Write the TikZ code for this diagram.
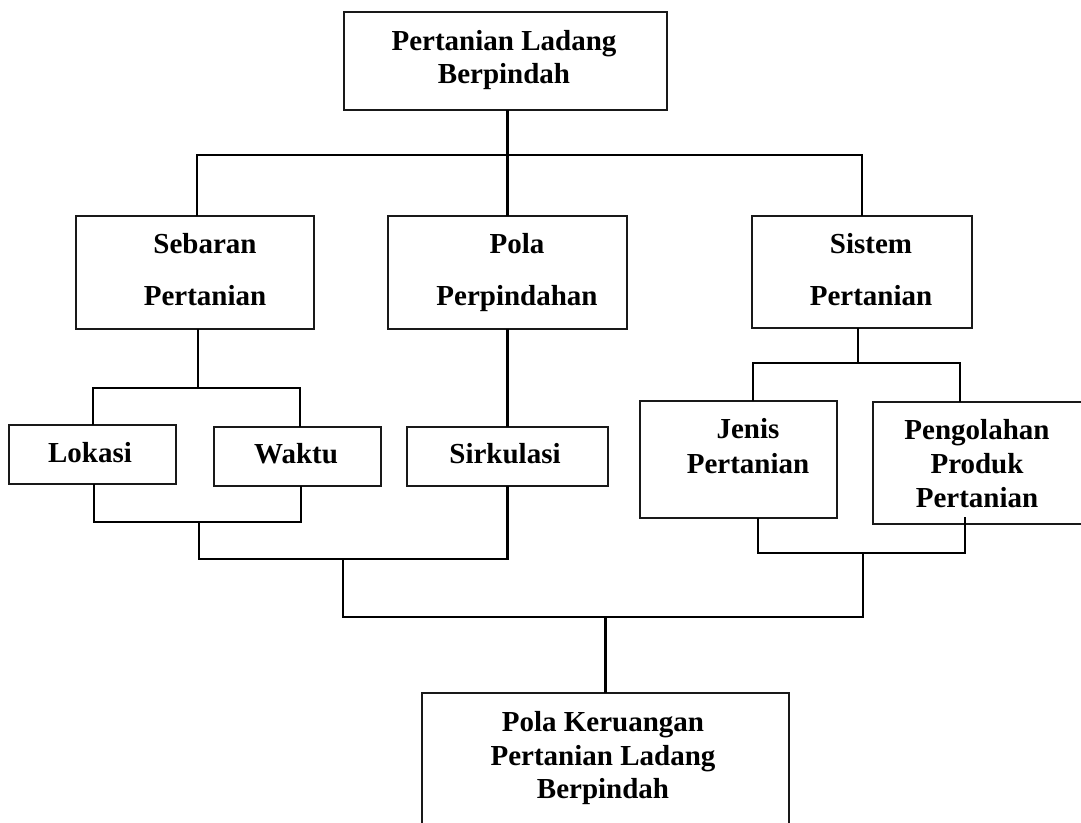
\documentclass[tikz,border=0pt]{standalone}
\usepackage{fontspec}
\setmainfont{Liberation Serif}
\usetikzlibrary{fit}
\begin{document}
\begin{tikzpicture}[x=0.75pt,y=-0.75pt,
  box/.style={draw=black!90,line width=0.8pt,rectangle,inner sep=0pt,outer sep=0pt},
  conn/.style={line width=1.6pt,black},
  lbl/.style={font=\fontsize{21.75}{26}\selectfont\bfseries,anchor=base,inner sep=0pt}]
\useasboundingbox (0,0) rectangle (1081,822);
% boxes
\node[box,fit={(344,12)(667,110)}] (T) {};
\node[box,fit={(76,216)(314,329)}] (S) {};
\node[box,fit={(388,216)(627,329)}] (P) {};
\node[box,fit={(752,216)(972,328)}] (Si) {};
\node[box,fit={(9,425)(176,484)}] (L) {};
\node[box,fit={(214,427)(381,486)}] (W) {};
\node[box,fit={(407,427)(608,486)}] (Sk) {};
\node[box,fit={(640,401)(837,518)}] (J) {};
\node[box,fit={(873,402)(1095,524)}] (Pg) {};
\node[box,fit={(422,693)(789,860)}] (B) {};
% labels
\node[lbl] (tT1) at (504,50) {Pertanian Ladang};
\node[lbl] (tT2) at (504,83) {Berpindah};
\node[lbl] (tS1) at (205,253) {Sebaran};
\node[lbl] (tS2) at (205,305) {Pertanian};
\node[lbl] (tP1) at (517,253) {Pola};
\node[lbl] (tP2) at (517,305) {Perpindahan};
\node[lbl] (tSi1) at (871,253) {Sistem};
\node[lbl] (tSi2) at (871,305) {Pertanian};
\node[lbl] (tL) at (90,462) {Lokasi};
\node[lbl] (tW) at (296,463) {Waktu};
\node[lbl] (tSk) at (505,463) {Sirkulasi};
\node[lbl] (tJ1) at (748,438) {Jenis};
\node[lbl] (tJ2) at (748,473) {Pertanian};
\node[lbl] (tPg1) at (977,439) {Pengolahan};
\node[lbl] (tPg2) at (977,473) {Produk};
\node[lbl] (tPg3) at (977,507) {Pertanian};
\node[lbl] (tB1) at (603,731) {Pola Keruangan};
\node[lbl] (tB2) at (603,765) {Pertanian Ladang};
\node[lbl] (tB3) at (603,798) {Berpindah};
% junction coordinates
\coordinate (hL) at (197,155);
\coordinate (hR) at (862,155);
\coordinate (sA) at (198,388);
\coordinate (sL) at (93,388);
\coordinate (sR) at (300,388);
\coordinate (lL) at (94,522);
\coordinate (lR) at (301,522);
\coordinate (lM) at (199,522);
\coordinate (m1) at (199,559);
\coordinate (m2) at (507.5,559);
\coordinate (rA) at (858,363);
\coordinate (rL) at (753,363);
\coordinate (rR) at (960,363);
\coordinate (qL) at (758,553);
\coordinate (qR) at (965,553);
\coordinate (qT) at (965,517);
\coordinate (qM) at (863,553);
\coordinate (b1) at (343,559);
\coordinate (b2) at (343,617);
\coordinate (b3) at (863,617);
\coordinate (b4) at (605.5,617);
% connectors
\draw[conn] (T.south -| P.north) -- (P.north);
\draw[conn] (S.north -| hL) -- (hL) -- (hR) -- (Si.north -| hR);
\draw[conn] (S.south -| sA) -- (sA);
\draw[conn] (L.north -| sL) -- (sL) -- (sR) -- (W.north -| sR);
\draw[conn] (L.south -| lL) -- (lL) -- (lR) -- (W.south -| lR);
\draw[conn] (lM) -- (m1) -- (m2) -- (Sk.south);
\draw[conn] (P.south) -- (Sk.north);
\draw[conn] (Si.south -| rA) -- (rA);
\draw[conn] (J.north -| rL) -- (rL) -- (rR) -- (Pg.north -| rR);
\draw[conn] (J.south -| qL) -- (qL) -- (qR) -- (qT);
\draw[conn] (b1) -- (b2) -- (b3) -- (qM);
\draw[conn] (b4) -- (B.north);
\end{tikzpicture}
\end{document}
